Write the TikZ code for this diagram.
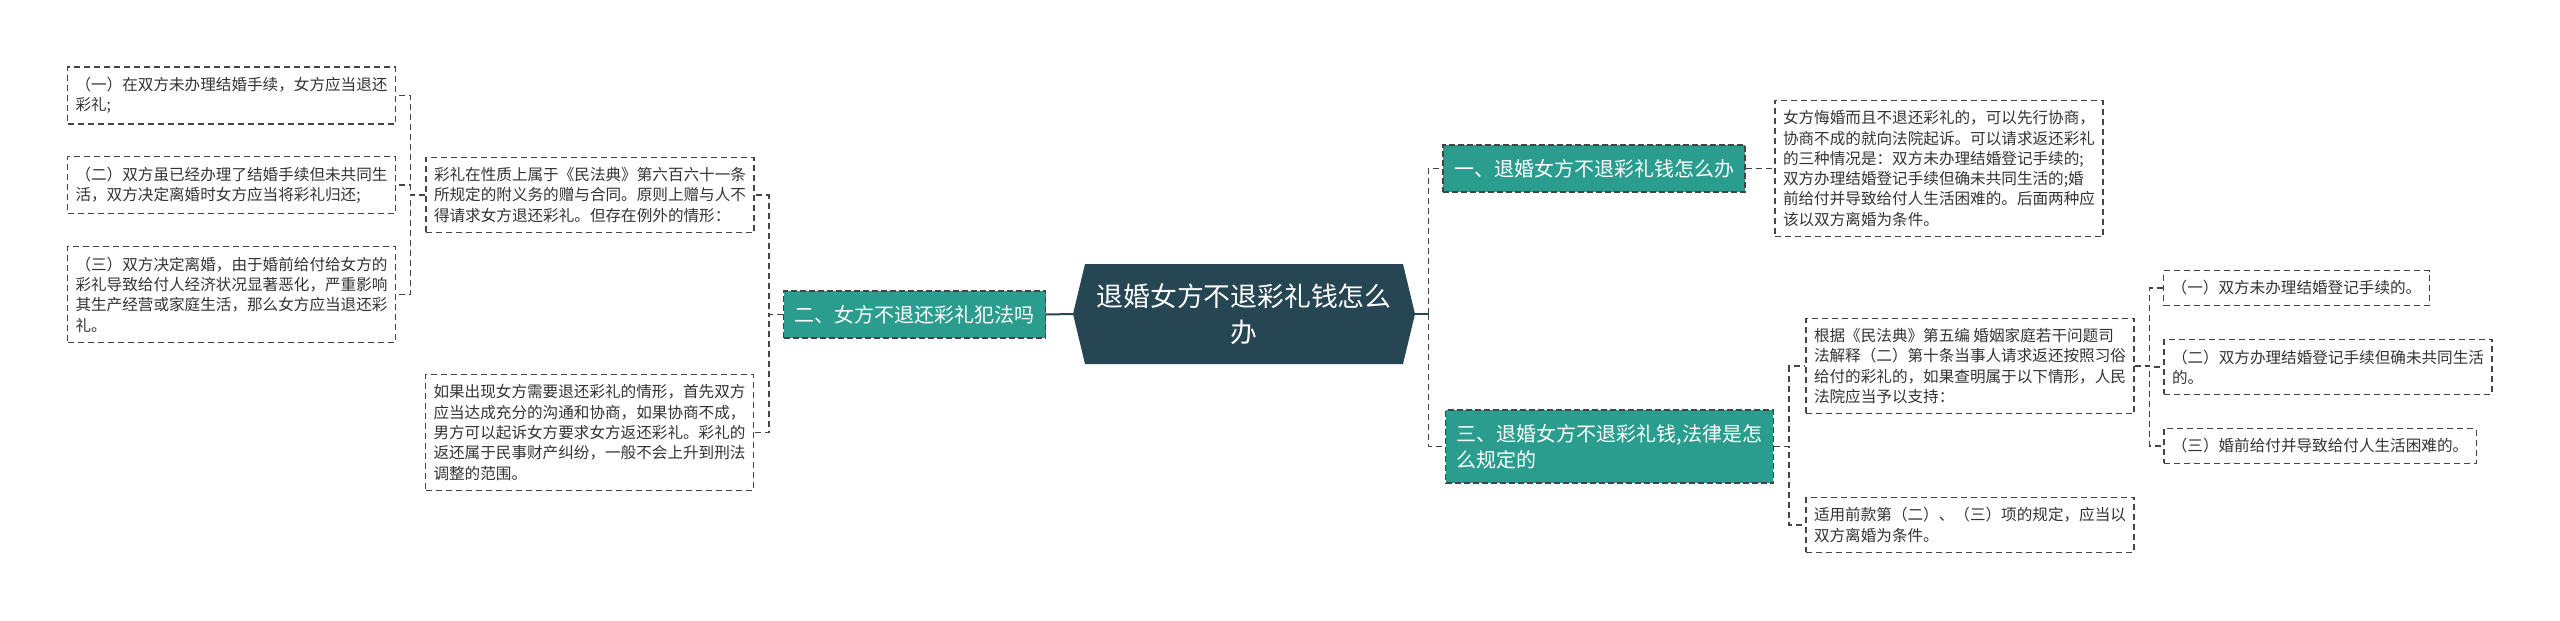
\documentclass[tikz,border=0pt]{standalone}
\usepackage{fontspec}
\setmainfont{Noto Sans CJK SC}
\usetikzlibrary{shapes}
\definecolor{rootcol}{RGB}{38,70,83}
\definecolor{topiccol}{RGB}{42,157,143}
\definecolor{linecol}{RGB}{68,68,68}
\definecolor{textcol}{RGB}{51,51,51}

\begin{document}
\begin{tikzpicture}[x=1pt,y=-1pt,
	root/.style={signal,signal to=west and east,signal pointer angle=153,fill=rootcol,text=white,minimum width=342pt,minimum height=100pt,align=center,font=\fontsize{26.8}{36}\selectfont},
	topic/.style={rectangle,fill=topiccol,draw=linecol,dash pattern=on 6pt off 3pt,line width=1.4pt,text=white,align=left,font=\fontsize{20}{26}\selectfont,inner xsep=11pt,minimum height=47pt},
	leaf/.style={rectangle,draw=linecol,dash pattern=on 6pt off 4pt,line width=1.4pt,text=textcol,align=left,font=\fontsize{15.6}{20.3}\selectfont,inner xsep=8pt,inner ysep=10pt},
	trunk/.style={draw=rootcol,line width=2pt},
	line/.style={draw=linecol,dash pattern=on 6pt off 4pt,line width=1.4pt}]
\useasboundingbox (0,0) rectangle (2560,621);
\node[root] (root) at (1244,314) {退婚女方不退彩礼钱怎么\\办};
% left side
\node[topic] (b2) at (914.5,314.5) {二、女方不退还彩礼犯法吗};
\node[leaf] (l2a) at (590,195) {彩礼在性质上属于《民法典》第六百六十一条\\所规定的附义务的赠与合同。原则上赠与人不\\得请求女方退还彩礼。但存在例外的情形：};
\node[leaf] (l2b) at (589.5,432.5) {如果出现女方需要退还彩礼的情形，首先双方\\应当达成充分的沟通和协商，如果协商不成，\\男方可以起诉女方要求女方返还彩礼。彩礼的\\返还属于民事财产纠纷，一般不会上升到刑法\\调整的范围。};
\node[leaf] (s1) at (231.5,95.5) {（一）在双方未办理结婚手续，女方应当退还\\彩礼;};
\node[leaf] (s2) at (231.5,185) {（二）双方虽已经办理了结婚手续但未共同生\\活，双方决定离婚时女方应当将彩礼归还;};
\node[leaf] (s3) at (231.5,294.5) {（三）双方决定离婚，由于婚前给付给女方的\\彩礼导致给付人经济状况显著恶化，严重影响\\其生产经营或家庭生活，那么女方应当退还彩\\礼。};
% right side
\node[topic] (b1) at (1594,168.5) {一、退婚女方不退彩礼钱怎么办};
\node[leaf] (l1) at (1939,168.5) {女方悔婚而且不退还彩礼的，可以先行协商，\\协商不成的就向法院起诉。可以请求返还彩礼\\的三种情况是：双方未办理结婚登记手续的;\\双方办理结婚登记手续但确未共同生活的;婚\\前给付并导致给付人生活困难的。后面两种应\\该以双方离婚为条件。};
\node[topic,minimum height=73pt] (b3) at (1609.5,446.5) {三、退婚女方不退彩礼钱,法律是怎\\么规定的};
\node[leaf] (l3a) at (1970,366) {根据《民法典》第五编 婚姻家庭若干问题司\\法解释（二）第十条当事人请求返还按照习俗\\给付的彩礼的，如果查明属于以下情形，人民\\法院应当予以支持：};
\node[leaf] (l3b) at (1970,525) {适用前款第（二）、（三）项的规定，应当以\\双方离婚为条件。};
\node[leaf] (r1) at (2296.5,288) {（一）双方未办理结婚登记手续的。};
\node[leaf] (r2) at (2328,367) {（二）双方办理结婚登记手续但确未共同生活\\的。};
\node[leaf] (r3) at (2320,446) {（三）婚前给付并导致给付人生活困难的。};
\coordinate (jr) at ([xshift=13pt]root.east);
\path[trunk] (root.west) -- (b2.east);
\path[trunk] (root.east) -- (jr);
\path[line] (jr) |- (b1.west);
\path[line] (jr) |- (b3.west);
\path[line] (b2.west) -- ++(-14,0) |- (l2a.east);
\path[line] (b2.west) -- ++(-14,0) |- (l2b.east);
\path[line] (l2a.west) -- ++(-15,0) |- (s1.east);
\path[line] (l2a.west) -- ++(-15,0) |- (s2.east);
\path[line] (l2a.west) -- ++(-15,0) |- (s3.east);
\path[line] (b1.east) -- (l1.west);
\path[line] (b3.east) -- ++(15,0) |- (l3a.west);
\path[line] (b3.east) -- ++(15,0) |- (l3b.west);
\path[line] (l3a.east) -- ++(15,0) |- (r1.west);
\path[line] (l3a.east) -- ++(15,0) |- (r2.west);
\path[line] (l3a.east) -- ++(15,0) |- (r3.west);
\end{tikzpicture}
\end{document}
